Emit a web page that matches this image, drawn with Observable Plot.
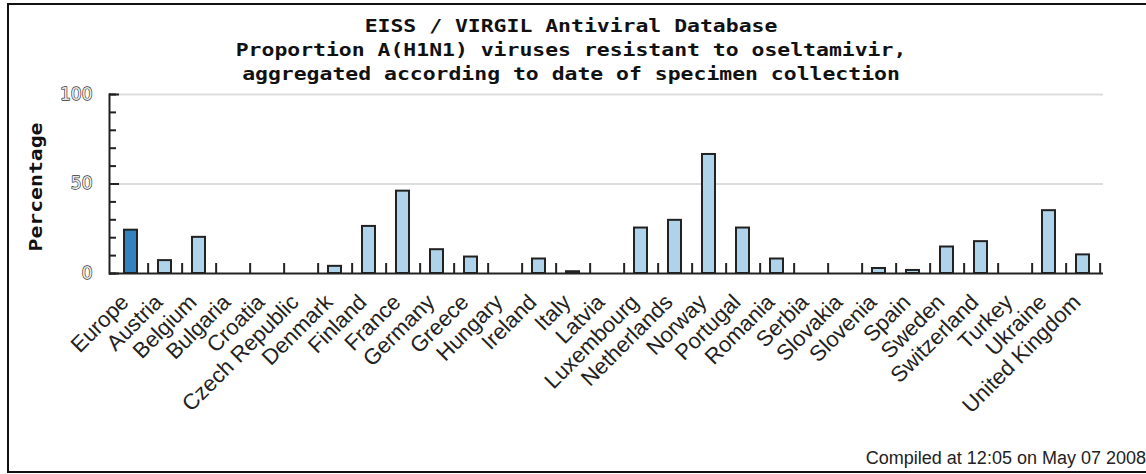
<!DOCTYPE html>
<html><head><meta charset="utf-8">
<script src="https://cdn.jsdelivr.net/npm/d3@7"></script>
<script src="https://cdn.jsdelivr.net/npm/@observablehq/plot@0.6"></script>
<style>
html,body{margin:0;padding:0;background:#fff;overflow:hidden;}
#wrap{position:relative;width:1146px;height:474px;overflow:hidden;background:#fff;}
#border{position:absolute;left:7px;top:3px;width:1200px;height:470px;border:2px solid #111;box-sizing:border-box;}
#title{position:absolute;left:0;top:14px;width:1142px;text-align:center;font-family:"DejaVu Sans Mono",monospace;font-weight:bold;font-size:17px;line-height:24px;color:#111;white-space:pre;transform:scaleX(1.26);transform-origin:571px 0;}
#chart{position:absolute;left:0;top:84px;}
#footer{position:absolute;right:0;top:448px;font-family:"Liberation Sans",Arial,sans-serif;font-size:18px;color:#222;line-height:20px;white-space:nowrap;}
</style></head>
<body><div id="wrap"><div id="border"></div><div id="title"></div><div id="chart"></div><div id="footer"></div></div>
<script>
const titleLines = [
  "EISS / VIRGIL Antiviral Database",
  "Proportion A(H1N1) viruses resistant to oseltamivir,",
  "aggregated according to date of specimen collection"
];
const yLabel = "Percentage";
const footerText = "Compiled at 12:05 on May 07 2008";
const countries = ["Europe","Austria","Belgium","Bulgaria","Croatia","Czech Republic","Denmark","Finland","France","Germany","Greece","Hungary","Ireland","Italy","Latvia","Luxembourg","Netherlands","Norway","Portugal","Romania","Serbia","Slovakia","Slovenia","Spain","Sweden","Switzerland","Turkey","Ukraine","United Kingdom"];
const values = [24.2,7.2,20.2,0,0,0,4.0,26.3,46.0,13.3,9.2,0,8.1,1.0,0,25.4,29.7,66.5,25.4,8.1,0,0,2.8,1.7,14.8,17.8,0,35.1,10.4];
const yMajorTicks = [0,50,100];
const yMinorTicks = [0,10,20,30,40,50,60,70,80,90,100];
const gridTicks = [50,100];

document.getElementById("title").textContent = titleLines.join("\n");
document.getElementById("footer").textContent = footerText;

const W = 1146, H = 364;
const mL = 109, mR = 43, mT = 10, mB = 175;
const step = (W - mL - mR) / countries.length;
const data = countries.map((c,i)=>({country:c, value:values[i]}));
const dark = "#3182bd", light = "#aed3ea", ink = "#222";

const chart = Plot.plot({
  width: W, height: H,
  marginLeft: mL, marginRight: mR, marginTop: mT, marginBottom: mB,
  style: {background: "transparent", overflow: "visible"},
  x: {domain: countries, paddingInner: 0.62, paddingOuter: 0.31},
  y: {domain: [0,100]},
  color: {type: "identity"},
  marks: [
    Plot.gridY(gridTicks, {stroke: "#ddd", strokeOpacity: 1, strokeWidth: 2}),
    Plot.barY(data.filter(d=>d.value>0), {x: "country", y: "value",
      fill: d => d.country === "Europe" ? dark : light, stroke: ink, strokeWidth: 2}),
    Plot.ruleY([0], {stroke: ink, strokeWidth: 2}),
    Plot.frame({anchor: "left", stroke: ink, strokeWidth: 2}),
    Plot.ruleX(countries, {x: d => d, y1: 0, y2: 5.6, dx: step/2, stroke: ink, strokeWidth: 2}),
    Plot.axisY(yMinorTicks, {tickSize: 7, dx: 7, text: null, label: null, stroke: ink, strokeWidth: 2}),
    Plot.axisY(yMajorTicks, {tickSize: 10, dx: 10, text: null, label: null, stroke: ink, strokeWidth: 2}),
    Plot.text(yMajorTicks, {y: d => d, text: d => String(d), frameAnchor: "left", dx: -17, textAnchor: "end",
      fontFamily: "DejaVu Sans", fontSize: 17, fill: "#e8e8e8", stroke: "#333", strokeWidth: 1.3}),
    Plot.text([yLabel], {frameAnchor: "left", dx: -73, dy: 3, rotate: -90, textAnchor: "middle",
      fontFamily: "DejaVu Sans Mono", fontWeight: "bold", fontSize: 17, fill: "#111"}),
    Plot.axisX({tickRotate: -45, tickSize: 0, tickPadding: 25, dx: -6, label: null,
      fontFamily: "Liberation Sans, Arial, sans-serif", fontSize: 22, fill: "#222"})
  ]
});
// widen the y-label glyphs like the title's wide bitmap font
chart.querySelectorAll("text").forEach(t => {
  if (t.textContent === yLabel) {
    const tr = t.getAttribute("transform");
    if (tr) t.setAttribute("transform", tr + " scale(1.26,1)");
    else t.parentNode.setAttribute("transform", (t.parentNode.getAttribute("transform") || "") + " scale(1,1)");
  }
});
document.getElementById("chart").appendChild(chart);
</script>
</body></html>
